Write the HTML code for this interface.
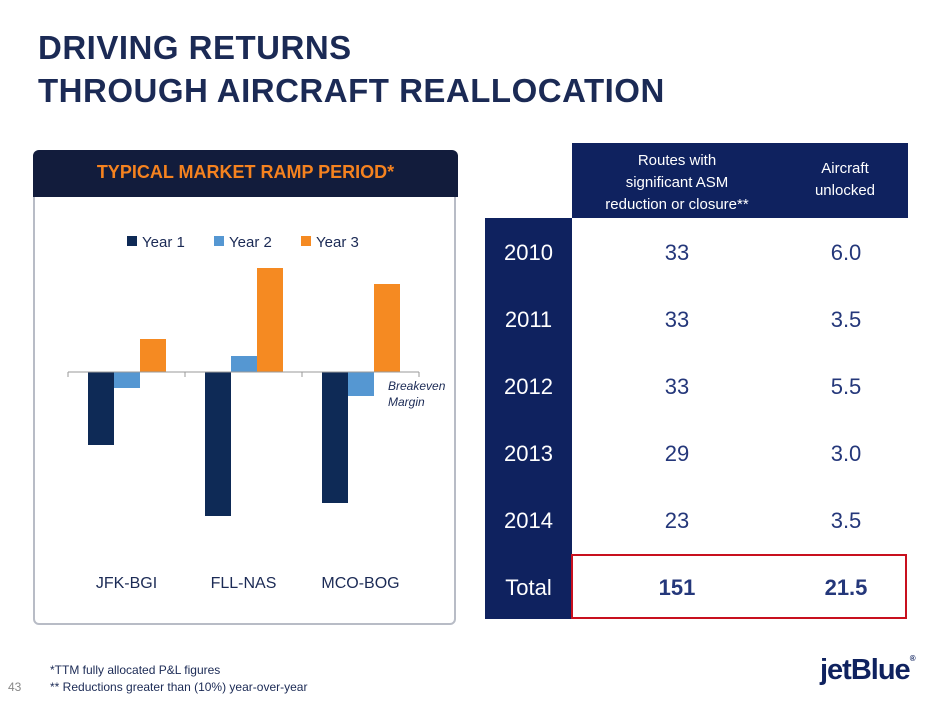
<!DOCTYPE html>
<html><head><meta charset="utf-8"><style>
body{margin:0;width:940px;height:705px;background:#fff;position:relative;font-family:"Liberation Sans",sans-serif;overflow:hidden}
.a{position:absolute}
#title{left:38px;top:26px;font-size:33px;font-weight:bold;color:#1b2a55;line-height:43px;letter-spacing:0.5px}
#panel{left:33px;top:150px;width:423px;height:475px;border:2px solid #b8bcc6;border-radius:6px;box-sizing:border-box}
#phead{left:33px;top:150px;width:425px;height:47px;background:#121c3c;border-radius:6px 6px 0 0;color:#f5821f;font-weight:bold;font-size:18px;text-align:center;line-height:45px}
.cell{position:absolute;text-align:center;color:#24377a;font-size:22px}
.yr{position:absolute;left:485px;width:87px;text-align:center;color:#fff;font-size:22px}
</style></head><body>
<div id="title" class="a">DRIVING RETURNS<br>THROUGH AIRCRAFT REALLOCATION</div>
<div id="panel" class="a"></div>
<div id="phead" class="a">TYPICAL MARKET RAMP PERIOD*</div>
<svg class="a" style="left:0;top:0" width="470" height="640">
<g id="legend" font-size="15" fill="#1b2a55">
<rect x="127" y="236" width="10" height="10" fill="#0e2a56"/><text x="142" y="247">Year 1</text>
<rect x="214" y="236" width="10" height="10" fill="#5597d2"/><text x="229" y="247">Year 2</text>
<rect x="301" y="236" width="10" height="10" fill="#f58a22"/><text x="316" y="247">Year 3</text>
</g>
<g id="bars"></g>
<g id="axis"></g>
<text x="388" y="390" font-size="12" font-style="italic" fill="#1b2a55">Breakeven</text>
<text x="388" y="406" font-size="12" font-style="italic" fill="#1b2a55">Margin</text>
</svg>
<div class="a" style="left:572px;top:143px;width:336px;height:75px;background:#0f225f"></div>
<div class="a" style="left:572px;top:150px;width:210px;text-align:center;color:#fff;font-size:15px;line-height:22px">Routes with<br>significant ASM<br>reduction or closure**</div>
<div class="a" style="left:782px;top:158px;width:126px;text-align:center;color:#fff;font-size:15px;line-height:22px">Aircraft<br>unlocked</div>
<div class="a" style="left:485px;top:218px;width:87px;height:401px;background:#0f225f"></div>
<div id="rows"></div>
<div class="a" style="left:571px;top:554px;width:336px;height:65px;border:2px solid #c8101e;box-sizing:border-box"></div>
<div class="a" style="left:50px;top:662px;font-size:12px;color:#1b2a55;line-height:17px">*TTM fully allocated P&amp;L figures<br>** Reductions greater than (10%) year-over-year</div>
<div class="a" style="left:8px;top:680px;font-size:12px;color:#888">43</div>
<div class="a" style="left:820px;top:654px;font-size:29px;font-weight:bold;color:#0f225f;letter-spacing:-1px">jetBlue<span style="font-size:8px;vertical-align:top">®</span></div>
<script>
const categories=["JFK-BGI","FLL-NAS","MCO-BOG"];
const year1=[-73,-144,-131];
const year2=[-16,16,-24];
const year3=[33,104,88];
const tableYears=["2010","2011","2012","2013","2014","Total"];
const tableRoutes=["33","33","33","29","23","151"];
const tableAircraft=["6.0","3.5","5.5","3.0","3.5","21.5"];
const NS="http://www.w3.org/2000/svg";
const x0=68,x1=419,zeroY=372,bw=26;
const band=(x1-x0)/categories.length;
const y=v=>zeroY-v;
const bars=document.getElementById('bars');
const series=[[year1,"#0e2a56","year1"],[year2,"#5597d2","year2"],[year3,"#f58a22","year3"]];
categories.forEach((c,i)=>{
  const start=x0+i*band+20;
  series.forEach((s,j)=>{
    const v=s[0][i];const r=document.createElementNS(NS,'rect');
    r.setAttribute('x',start+j*bw);r.setAttribute('width',bw);
    r.setAttribute('y',Math.min(y(v),zeroY));r.setAttribute('height',Math.abs(v));
    r.setAttribute('fill',s[1]);
    
    
    bars.appendChild(r);
  });
  const t=document.createElementNS(NS,'text');
  t.setAttribute('x',x0+(i+0.5)*band);t.setAttribute('y',588);
  t.setAttribute('text-anchor','middle');t.setAttribute('font-size','16');t.setAttribute('fill','#1b2a55');
  t.textContent=c;
  
  
  bars.appendChild(t);
});
const ax=document.getElementById('axis');
let l=document.createElementNS(NS,'line');
l.setAttribute('x1',x0);l.setAttribute('x2',x1);l.setAttribute('y1',zeroY);l.setAttribute('y2',zeroY);l.setAttribute('stroke','#999');


ax.appendChild(l);
for(let i=0;i<=categories.length;i++){
  const tk=document.createElementNS(NS,'line');
  tk.setAttribute('x1',x0+i*band);tk.setAttribute('x2',x0+i*band);tk.setAttribute('y1',zeroY);tk.setAttribute('y2',zeroY+5);tk.setAttribute('stroke','#999');
  
  
  ax.appendChild(tk);
}
const rows=document.getElementById('rows');
tableYears.forEach((yr,i)=>{
  const top=240+i*67;const bold=i===5?'font-weight:bold;':'';
  const a=document.createElement('div');a.className='yr';a.style.top=top+'px';a.textContent=yr;
  
  
  rows.appendChild(a);
  const b=document.createElement('div');b.className='cell';b.style.cssText+='left:572px;width:210px;top:'+top+'px;'+bold;b.textContent=tableRoutes[i];
  
  
  rows.appendChild(b);
  const c=document.createElement('div');c.className='cell';c.style.cssText+='left:782px;width:128px;top:'+top+'px;'+bold;c.textContent=tableAircraft[i];
  
  
  rows.appendChild(c);
});
</script>
</body></html>
